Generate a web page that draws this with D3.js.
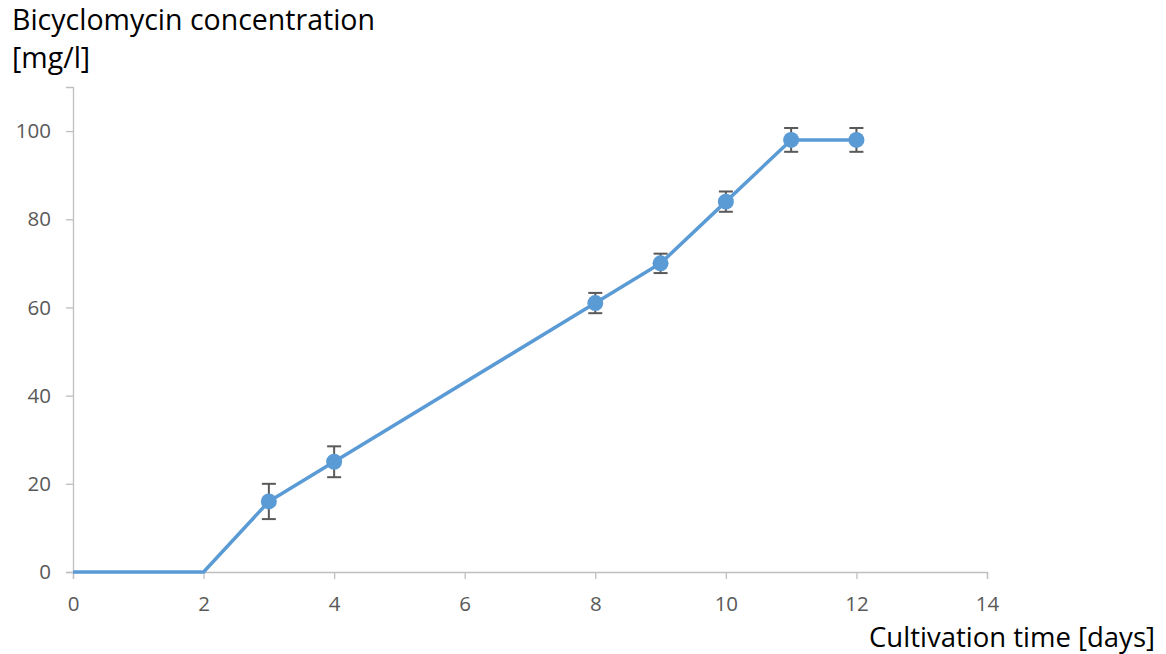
<!DOCTYPE html>
<html>
<head>
<meta charset="utf-8">
<script src="https://cdn.jsdelivr.net/npm/d3@7"></script>
<style>
  html, body { margin: 0; padding: 0; background: #fff; }
  svg { display: block; font-family: "Open Sans", "Noto Sans", sans-serif; }
</style>
</head>
<body>
<svg id="chart" width="1166" height="654"></svg>
<script>
// Bicyclomycin production over cultivation time
const days = [0, 2, 3, 4, 8, 9, 10, 11, 12];
const concentration = [0, 0, 16, 25, 61, 70, 84, 98, 98];
// Standard deviation (null where no error bar is shown)
const errors = [null, null, 4, 3.5, 2.3, 2.2, 2.3, 2.7, 2.7];
const xTicks = [0, 2, 4, 6, 8, 10, 12, 14];
const yTicks = [0, 20, 40, 60, 80, 100];

const svg = d3.select("#chart");
const x = d3.scaleLinear().domain([0, 14]).range([73, 987]);
const y = d3.scaleLinear().domain([0, 110]).range([572, 87]);

const axisColor = "#bfbfbf";
const textColor = "#595959";

// Y axis
const yAxis = svg.append("g").attr("transform", `translate(${x(0)},0)`)
  .call(d3.axisLeft(y).tickValues(yTicks).tickSize(7).tickPadding(15).tickFormat(d3.format("d")));
yAxis.select(".domain").attr("stroke", axisColor).attr("stroke-width", 1.3);
yAxis.selectAll(".tick line").attr("stroke", axisColor).attr("stroke-width", 1.3);
yAxis.selectAll(".tick text").attr("fill", textColor).style("font-size", "20.5px")
  .style("font-family", "'Open Sans', sans-serif");

// X axis
const xAxis = svg.append("g").attr("transform", `translate(0,${y(0)})`)
  .call(d3.axisBottom(x).tickValues(xTicks).tickSize(7).tickPadding(17).tickFormat(d3.format("d")));
xAxis.select(".domain").attr("stroke", axisColor).attr("stroke-width", 1.3);
xAxis.selectAll(".tick line").attr("stroke", axisColor).attr("stroke-width", 1.3);
xAxis.selectAll(".tick text").attr("fill", textColor).style("font-size", "20.5px")
  .style("font-family", "'Open Sans', sans-serif");

// Data line
const pts = days.map((d, i) => ({ d, c: concentration[i], e: errors[i] }));
svg.append("path")
  .datum(pts)
  .attr("fill", "none")
  .attr("stroke", "#5b9bd5")
  .attr("stroke-width", 3.5)
  .attr("stroke-linejoin", "round")
  .attr("d", d3.line().x(p => x(p.d)).y(p => y(p.c)));

// Error bars
const eb = svg.append("g").attr("stroke", "#595959").attr("stroke-width", 2);
pts.filter(p => p.e != null).forEach(p => {
  const cx = x(p.d), top = y(p.c + p.e), bot = y(p.c - p.e);
  eb.append("line").attr("x1", cx).attr("x2", cx).attr("y1", top).attr("y2", bot);
  eb.append("line").attr("x1", cx - 7).attr("x2", cx + 7).attr("y1", top).attr("y2", top);
  eb.append("line").attr("x1", cx - 7).attr("x2", cx + 7).attr("y1", bot).attr("y2", bot);
});

// Markers
svg.append("g").selectAll("circle")
  .data(pts.filter(p => p.e != null))
  .join("circle")
  .attr("cx", p => x(p.d))
  .attr("cy", p => y(p.c))
  .attr("r", 8)
  .attr("fill", "#5b9bd5");

// Axis titles
const yTitle = svg.append("text").attr("x", 12).attr("fill", "#000")
  .style("font-size", "28.5px");
yTitle.append("tspan").attr("x", 12).attr("y", 30).text("Bicyclomycin concentration");
yTitle.append("tspan").attr("x", 12).attr("y", 68).text("[mg/l]");

svg.append("text").attr("x", 1155).attr("y", 647).attr("text-anchor", "end")
  .attr("fill", "#000").style("font-size", "27.5px").text("Cultivation time [days]");
</script>
</body>
</html>
